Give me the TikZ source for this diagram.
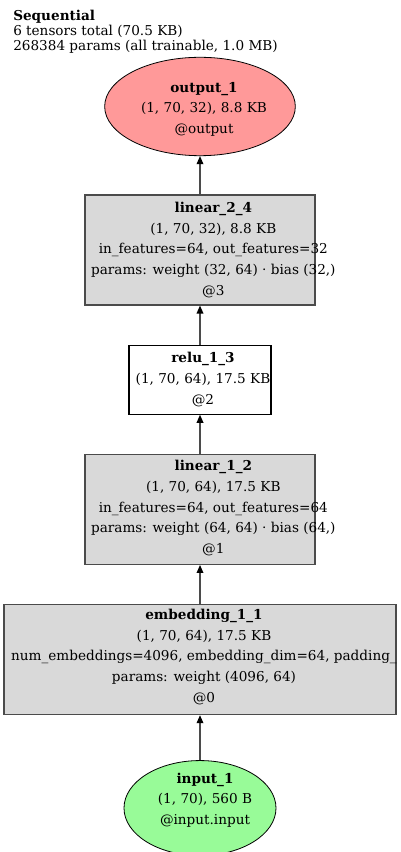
\documentclass[tikz,border=0pt]{standalone}
\usepackage{fontspec}
\setmainfont{DejaVu Serif}
\usetikzlibrary{positioning,arrows.meta,shapes.geometric}
\definecolor{outred}{RGB}{255,153,153}
\definecolor{ingreen}{RGB}{152,251,152}
\definecolor{layergray}{RGB}{217,217,217}
\definecolor{edgegray}{RGB}{75,75,75}

\begin{document}
\begin{tikzpicture}[x=0.75pt, y=-0.75pt, node distance=29.25pt,
    every node/.style={font=\fontsize{10.2}{15.5}\selectfont},
    layer/.style={rectangle, draw=edgegray, line width=0.9pt, fill=layergray, minimum height=82.5pt, inner sep=0pt},
    tensor/.style={ellipse, draw=black, line width=0.6pt, inner sep=0pt},
    info/.style={align=center, inner sep=0pt},
    flow/.style={-{Triangle[length=6pt,width=5pt,color=black]}, draw=edgegray, line width=0.9pt}]
  \useasboundingbox (0,0) rectangle (400,852);

  % summary of the model
  \node[anchor=north west, align=left, inner sep=0pt, font=\fontsize{10.2}{11.25}\selectfont] (head) at (13,10)
    {\textbf{Sequential}\\6 tensors total (70.5 KB)\\268384 params (all trainable, 1.0 MB)};

  % tensors and layers, top to bottom
  \node[tensor, fill=outred, minimum width=143pt, minimum height=73.8pt] (out) at (200,106.5) {};
  \node[layer, minimum width=172.5pt, below=28.7pt of out] (lin2) {};
  \node[layer, fill=white, draw=black, minimum width=106.5pt, minimum height=51.75pt, below=of lin2] (relu) {};
  \node[layer, minimum width=172.5pt, below=of relu] (lin1) {};
  \node[layer, minimum width=294pt, below=of lin1] (emb) {};
  \node[tensor, fill=ingreen, minimum width=114pt, minimum height=71.25pt, below=33.75pt of emb] (inp) {};

  \node[info, xshift=3pt, yshift=-2pt] (out-t) at (out) {\textbf{output\_1}\\(1, 70, 32), 8.8 KB\\@output};
  \node[info, xshift=10pt] (lin2-t) at (lin2) {\textbf{linear\_2\_4}\\(1, 70, 32), 8.8 KB\\in\_features=64, out\_features=32\\params: weight (32, 64) · bias (32,)\\@3};
  \node[info, xshift=2.25pt] (relu-t) at (relu) {\textbf{relu\_1\_3}\\(1, 70, 64), 17.5 KB\\@2};
  \node[info, xshift=10pt, yshift=1pt] (lin1-t) at (lin1) {\textbf{linear\_1\_2}\\(1, 70, 64), 17.5 KB\\in\_features=64, out\_features=64\\params: weight (64, 64) · bias (64,)\\@1};
  \node[info, xshift=3pt, yshift=2pt] (emb-t) at (emb) {\textbf{embedding\_1\_1}\\(1, 70, 64), 17.5 KB\\num\_embeddings=4096, embedding\_dim=64, padding\_\\params: weight (4096, 64)\\@0};
  \node[info, xshift=3.75pt, yshift=6pt] (inp-t) at (inp) {\textbf{input\_1}\\(1, 70), 560 B\\@input.input};

  \draw[flow] (inp) -- (emb);
  \draw[flow] (emb) -- (lin1);
  \draw[flow] (lin1) -- (relu);
  \draw[flow] (relu) -- (lin2);
  \draw[flow] (lin2) -- (out);
\end{tikzpicture}
\end{document}
